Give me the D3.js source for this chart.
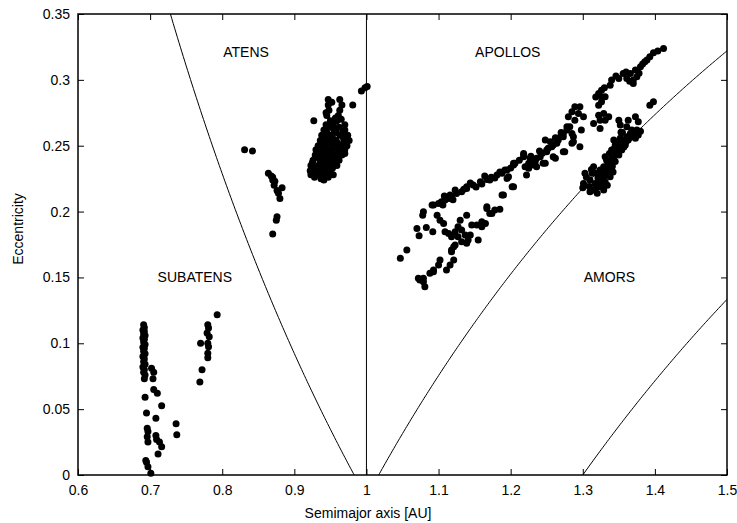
<!DOCTYPE html>
<meta charset="utf-8">

<!-- Load d3.js -->
<script src="https://d3js.org/d3.v7.min.js"></script>

<style>
  body { margin: 0; background: #fff; }
  text { font-family: "Liberation Sans", Arial, Helvetica, sans-serif; }
</style>

<!-- Create a div where the graph will take place -->
<div id="my_dataviz"></div>
<script>

// objects as [semimajor axis (AU), eccentricity]
var subatens = [
  [0.691,0.114],[0.692,0.112],[0.690,0.110],[0.692,0.109],[0.691,0.107],[0.693,0.106],
  [0.690,0.104],[0.692,0.103],[0.691,0.101],[0.693,0.099],[0.690,0.097],[0.692,0.096],
  [0.691,0.094],[0.693,0.092],[0.690,0.090],[0.692,0.088],[0.691,0.086],[0.693,0.084],
  [0.690,0.082],[0.692,0.080],[0.691,0.078],[0.693,0.076],[0.692,0.073],
  [0.693,0.059],[0.695,0.047],[0.696,0.0355],[0.697,0.033],[0.696,0.029],[0.697,0.025],
  [0.694,0.011],[0.695,0.0096],[0.697,0.0063],[0.701,0.0013],
  [0.702,0.081],[0.705,0.078],[0.704,0.073],[0.705,0.065],[0.710,0.062],[0.716,0.0526],
  [0.708,0.043],[0.708,0.030],[0.709,0.027],[0.713,0.025],[0.716,0.0215],[0.711,0.016],
  [0.736,0.039],[0.737,0.0306],
  [0.770,0.100],[0.772,0.080],[0.769,0.0706],
  [0.780,0.114],[0.781,0.1116],[0.779,0.1078],[0.782,0.105],[0.780,0.100],[0.781,0.0974],
  [0.780,0.0924],[0.780,0.089],[0.793,0.1217]
];

var atens = [
  [0.831,0.247],[0.842,0.246],
  [0.864,0.229],[0.868,0.227],[0.870,0.224],[0.872,0.220],[0.876,0.216],[0.878,0.214],
  [0.883,0.218],[0.880,0.210],[0.870,0.226],[0.873,0.223],[0.876,0.196],[0.875,0.1935],
  [0.870,0.183],
  [0.947,0.285],[0.963,0.285],
  [0.947,0.281],[0.966,0.281],[0.981,0.281],
  [0.948,0.277],[0.963,0.277],
  [0.945,0.273],[0.961,0.273],
  [0.927,0.269],[0.950,0.269],[0.959,0.269],
  [0.944,0.266],[0.954,0.266],[0.970,0.266],
  [0.941,0.262],[0.955,0.262],[0.970,0.262],
  [0.938,0.258],[0.950,0.258],[0.963,0.258],[0.974,0.258],
  [0.936,0.254],[0.947,0.254],[0.958,0.254],[0.969,0.254],[0.976,0.254],
  [0.933,0.250],[0.943,0.250],[0.954,0.250],[0.965,0.250],[0.973,0.250],
  [0.930,0.247],[0.938,0.247],[0.950,0.247],[0.961,0.247],[0.970,0.247],
  [0.929,0.243],[0.937,0.243],[0.947,0.243],[0.956,0.243],[0.966,0.243],
  [0.926,0.239],[0.936,0.239],[0.944,0.239],[0.954,0.239],[0.962,0.239],
  [0.923,0.235],[0.933,0.235],[0.941,0.235],[0.951,0.235],[0.959,0.235],
  [0.922,0.231],[0.930,0.231],[0.938,0.231],[0.948,0.231],
  [0.923,0.228],[0.933,0.228],[0.944,0.228],[0.954,0.228],
  [0.941,0.224],
  [0.952,0.283],[0.944,0.275],[0.957,0.271],[0.965,0.270],[0.949,0.264],[0.962,0.264],
  [0.945,0.260],[0.958,0.260],[0.967,0.260],[0.942,0.256],[0.953,0.256],[0.968,0.256],
  [0.940,0.252],[0.951,0.252],[0.960,0.252],[0.970,0.252],[0.935,0.248],[0.945,0.248],
  [0.956,0.248],[0.966,0.248],[0.932,0.245],[0.942,0.245],[0.952,0.245],[0.962,0.245],
  [0.970,0.244],[0.929,0.241],[0.940,0.241],[0.950,0.241],[0.959,0.241],[0.925,0.237],
  [0.937,0.237],[0.947,0.237],[0.956,0.237],[0.927,0.233],[0.935,0.233],[0.944,0.233],
  [0.953,0.233],[0.926,0.229],[0.939,0.229],[0.950,0.230],[0.928,0.226],[0.937,0.225],
  [0.947,0.226],
  [0.993,0.2916],[0.998,0.294]
];

var apollos = [
  [1.001,0.295],
  [1.047,0.1645],[1.056,0.1708],
  [1.079,0.1998],[1.078,0.1973],[1.070,0.1872],[1.073,0.1816],[1.083,0.1880],[1.092,0.1847],
  [1.091,0.2049],
  [1.100,0.2062],[1.104,0.2074],[1.109,0.2087],[1.114,0.2100],[1.118,0.2112],[1.125,0.2138],
  [1.132,0.2150],[1.139,0.2176],[1.148,0.2201],[1.158,0.2226],[1.167,0.2244],[1.093,0.2049],
  [1.116,0.2125],[1.139,0.2188],[1.171,0.2239],[1.181,0.2277],[1.195,0.2315],[1.204,0.2353],
  [1.218,0.2416],[1.236,0.2404],[1.250,0.2454],
  [1.108,0.2118],[1.123,0.2163],[1.144,0.2216],[1.152,0.2186],[1.164,0.2270],[1.185,0.2300],
  [1.178,0.2254],
  [1.098,0.1973],[1.102,0.1935],[1.107,0.1910],[1.109,0.1847],[1.114,0.1834],[1.118,0.1809],
  [1.123,0.1847],[1.127,0.1809],[1.132,0.1771],[1.139,0.1759],[1.144,0.1822],[1.153,0.1898],
  [1.160,0.1885],[1.165,0.1910],[1.155,0.1784],[1.121,0.1733],[1.118,0.1695],[1.102,0.1632],
  [1.100,0.1594],[1.093,0.1556],[1.088,0.1531],[1.079,0.1493],[1.074,0.1480],[1.081,0.1429],
  [1.072,0.1493],[1.079,0.1467],[1.093,0.1543],[1.111,0.1556],[1.116,0.1594],[1.121,0.1632],
  [1.118,0.1708],[1.123,0.1746],[1.132,0.1860],[1.137,0.1822],[1.141,0.1784],[1.127,0.1885],
  [1.130,0.1935],[1.139,0.1973],[1.146,0.1898],[1.160,0.1923],[1.167,0.2024],[1.171,0.1986],
  [1.178,0.2011],[1.185,0.2017],[1.190,0.2125],[1.202,0.2188],[1.197,0.2264],[1.206,0.2366],
  [1.222,0.2277],[1.232,0.2353],[1.241,0.2416],[1.245,0.2366],[1.259,0.2416],[1.273,0.2454],
  [1.167,0.2037],[1.174,0.1986],[1.188,0.2125],[1.195,0.2252],[1.204,0.2188],
  [1.192,0.2315],[1.204,0.2366],[1.218,0.2441],[1.227,0.2404],[1.234,0.2378],[1.236,0.2340],
  [1.225,0.2328],[1.248,0.2543],[1.250,0.2467],[1.257,0.2492],[1.264,0.2518],[1.262,0.2404],
  [1.269,0.2568],[1.273,0.2593],[1.278,0.2644],[1.280,0.2720],[1.285,0.2757],[1.289,0.2795],
  [1.275,0.2454],[1.287,0.2530],[1.285,0.2593],
  [1.412,0.3239],[1.398,0.3205],[1.393,0.3175],[1.386,0.3137],[1.380,0.3099],[1.373,0.3074],
  [1.375,0.3023],[1.370,0.2998],[1.366,0.3049],[1.356,0.3049],[1.361,0.3011],[1.370,0.2973],
  [1.340,0.2998],[1.338,0.2960],[1.326,0.2922],[1.322,0.2897],[1.331,0.2871],[1.326,0.2833],
  [1.322,0.2808],[1.296,0.2795],[1.294,0.2745],[1.289,0.2694],[1.282,0.2644],[1.278,0.2619],
  [1.273,0.2568],[1.266,0.2543],[1.259,0.2505],[1.252,0.2480],[1.244,0.2442],[1.232,0.2378],
  [1.225,0.2366],[1.220,0.2340],[1.218,0.2429],[1.287,0.2568],[1.285,0.2518],[1.296,0.2492],
  [1.248,0.2366],[1.298,0.2619],[1.301,0.2720],
  [1.322,0.2732],[1.329,0.2745],[1.336,0.2720],[1.324,0.2694],[1.331,0.2694],[1.315,0.2669],
  [1.324,0.2631],[1.350,0.2694],[1.352,0.2657],[1.363,0.2694],[1.373,0.2720],[1.377,0.2682],
  [1.361,0.2644],[1.393,0.2808],[1.398,0.2833],
  [1.350,0.3010],[1.360,0.3060],[1.365,0.2990],[1.378,0.3050],[1.383,0.3120],[1.389,0.3150],
  [1.346,0.3030],[1.404,0.3220],[1.330,0.2940],[1.318,0.2870],[1.327,0.2870],
  [1.255,0.2530],[1.262,0.2560],[1.270,0.2600],[1.240,0.2460],[1.228,0.2420],[1.212,0.2390],
  [1.200,0.2330],[1.188,0.2290],[1.173,0.2260],[1.160,0.2210],[1.135,0.2170],[1.120,0.2090],
  [1.106,0.2050]
];

var amors = [
  [1.366,0.2593],[1.361,0.2568],[1.356,0.2543],[1.352,0.2518],[1.350,0.2480],[1.345,0.2505],
  [1.359,0.2505],[1.354,0.2467],[1.347,0.2442],[1.343,0.2416],[1.338,0.2378],[1.340,0.2467],
  [1.331,0.2416],[1.377,0.2581],[1.375,0.2619],[1.373,0.2556],[1.336,0.2315],[1.329,0.2340],
  [1.338,0.2264],[1.331,0.2226],[1.326,0.2264],[1.319,0.2290],[1.315,0.2340],[1.313,0.2290],
  [1.303,0.2290],[1.301,0.2214],[1.317,0.2214],[1.324,0.2188],[1.315,0.2163],[1.329,0.2163],
  [1.333,0.2302],[1.352,0.2556],[1.343,0.2543],[1.363,0.2543],[1.335,0.2372],[1.321,0.2254],
  [1.310,0.2239],[1.341,0.2345],[1.353,0.2603],[1.324,0.2315],
  [1.360,0.2530],[1.348,0.2530],[1.365,0.2560],[1.370,0.2600],[1.357,0.2490],[1.345,0.2460],
  [1.350,0.2430],[1.340,0.2400],[1.345,0.2380],[1.333,0.2390],[1.336,0.2350],[1.328,0.2300],
  [1.330,0.2270],[1.322,0.2230],[1.318,0.2180],[1.326,0.2200],[1.309,0.2190],[1.305,0.2260],
  [1.312,0.2320],[1.334,0.2200],[1.320,0.2140],[1.310,0.2150],[1.300,0.2180],[1.337,0.2440],
  [1.355,0.2600],[1.368,0.2620],[1.380,0.2610],[1.371,0.2590],[1.344,0.2480],[1.342,0.2300]
];

// tick values
var xTicks = [0.6, 0.7, 0.8, 0.9, 1, 1.1, 1.2, 1.3, 1.4, 1.5];
var yTicks = [0, 0.05, 0.1, 0.15, 0.2, 0.25, 0.3, 0.35];

// region labels
var regionNames = ["SUBATENS", "ATENS", "APOLLOS", "AMORS"];
var regionA = [0.762, 0.833, 1.196, 1.337];
var regionE = [0.150, 0.321, 0.321, 0.150];

// boundaries: aphelion Q = 0.983 AU, perihelion q = 1.017 AU and 1.3 AU, a = 1 AU
var aphelionQ = [0.983];
var perihelionQ = [1.017, 1.3];
var earthA = 1;

// set the dimensions and margins of the graph
var margin = {top: 14, right: 10, bottom: 48, left: 78},
    width = 737 - margin.left - margin.right,
    height = 523 - margin.top - margin.bottom;

var svg = d3.select("#my_dataviz")
  .append("svg")
    .attr("width", width + margin.left + margin.right)
    .attr("height", height + margin.top + margin.bottom)
  .append("g")
    .attr("transform", "translate(" + margin.left + "," + margin.top + ")");

var x = d3.scaleLinear().domain([0.6, 1.5]).range([0, width]);
var y = d3.scaleLinear().domain([0, 0.35]).range([height, 0]);

svg.append("clipPath").attr("id", "clip")
  .append("rect").attr("width", width).attr("height", height);

// axes, ticks pointing inward on all four sides
function styleAxis(g) {
  g.select(".domain").remove();
  g.attr("font-size", 14).attr("font-family", null);
  g.selectAll("text").attr("fill", "#000");
  g.selectAll("line").attr("stroke", "#000");
}

svg.append("g")
  .attr("transform", "translate(0," + height + ")")
  .call(d3.axisBottom(x).tickValues(xTicks).tickSize(-6).tickPadding(10).tickFormat(function(d) { return String(d); }))
  .call(styleAxis);

svg.append("g")
  .call(d3.axisLeft(y).tickValues(yTicks).tickSize(-6).tickPadding(8).tickFormat(function(d) { return String(d); }))
  .call(styleAxis);

svg.append("g")
  .call(d3.axisTop(x).tickValues(xTicks).tickSize(-6).tickFormat(""))
  .call(styleAxis);

svg.append("g")
  .attr("transform", "translate(" + width + ",0)")
  .call(d3.axisRight(y).tickValues(yTicks).tickSize(-6).tickFormat(""))
  .call(styleAxis);

// boundary curves
var aSamples = d3.range(0.6, 1.5001, 0.002);
var curve = d3.line()
  .x(function(d) { return x(d[0]); })
  .y(function(d) { return y(d[1]); });

var curves = [];
aphelionQ.forEach(function(Q) {
  curves.push(aSamples.map(function(a) { return [a, Q / a - 1]; }));
});
perihelionQ.forEach(function(q) {
  curves.push(aSamples.map(function(a) { return [a, 1 - q / a]; }));
});

svg.append("g").attr("clip-path", "url(#clip)")
  .selectAll("path")
  .data(curves)
  .enter()
  .append("path")
    .attr("d", curve)
    .attr("fill", "none")
    .attr("stroke", "#000")
    .attr("stroke-width", 1);

svg.append("line")
  .attr("x1", x(earthA)).attr("x2", x(earthA))
  .attr("y1", y(0)).attr("y2", y(0.35))
  .attr("stroke", "#000")
  .attr("stroke-width", 1);

// points
var allPoints = subatens.concat(atens, apollos, amors);
svg.append("g")
  .selectAll("circle")
  .data(allPoints)
  .enter()
  .append("circle")
    .attr("cx", function(d) { return x(d[0]); })
    .attr("cy", function(d) { return y(d[1]); })
    .attr("r", 3.5)
    .style("fill", "#000");

// region labels
svg.selectAll("text.region")
  .data(regionNames)
  .enter()
  .append("text")
    .attr("class", "region")
    .attr("x", function(d, i) { return x(regionA[i]); })
    .attr("y", function(d, i) { return y(regionE[i]); })
    .attr("dy", "0.35em")
    .attr("text-anchor", "middle")
    .style("font-size", "14px")
    .text(function(d) { return d; });

// frame
svg.append("rect")
  .attr("width", width).attr("height", height)
  .attr("fill", "none")
  .attr("stroke", "#000")
  .attr("stroke-width", 1.5);

// axis labels
svg.append("text")
  .attr("text-anchor", "middle")
  .attr("x", 290)
  .attr("y", height + 43)
  .style("font-size", "14px")
  .text("Semimajor axis [AU]");

svg.append("text")
  .attr("text-anchor", "middle")
  .attr("transform", "rotate(-90)")
  .attr("x", -215)
  .attr("y", -60)
  .attr("dy", "0.35em")
  .style("font-size", "14px")
  .text("Eccentricity");

</script>
